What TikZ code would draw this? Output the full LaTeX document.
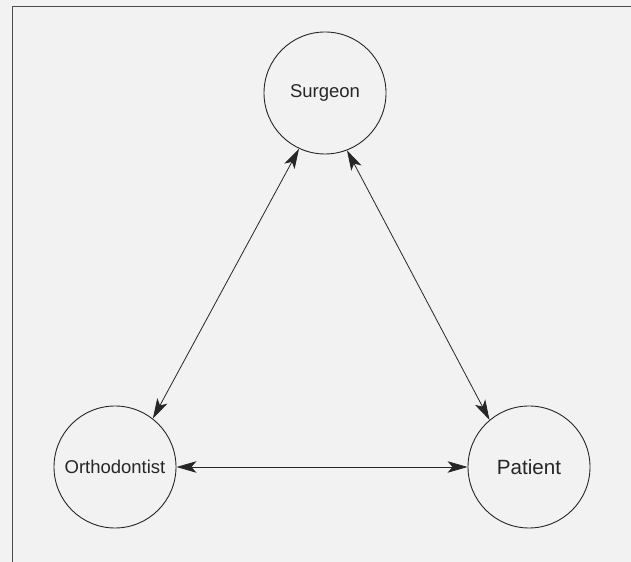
\documentclass[tikz,border=0pt]{standalone}
\usepackage{fontspec}
\setmainfont{Liberation Sans}
\usepackage{xcolor}
\usetikzlibrary{arrows.meta}
\definecolor{scanbg}{gray}{0.95}
\definecolor{framegray}{gray}{0.3}
\definecolor{inkgray}{gray}{0.15}

\begin{document}
\begin{tikzpicture}[
  x=1bp,y=1bp,
  role/.style={circle,draw=inkgray,line width=0.9bp,minimum size=122bp,inner sep=0pt,
    text=inkgray,font=\fontsize{18.5bp}{22bp}\selectfont},
  link/.style={draw=inkgray,line width=0.8bp},
  >={Stealth[length=20bp,width=11.5bp,inset=5bp]}
]
  \fill[scanbg] (0,0) rectangle (631,562);
  \useasboundingbox (0,0) rectangle (631,562);
  \draw[framegray,line width=1.4bp] (12.5,0) -- (12.5,555.5) -- (631,555.5);

  \node[role] (sur) at (325,469) {Surgeon};
  \node[role] (ort) at (115,95)  {Orthodontist};
  \node[role,font=\fontsize{20.6bp}{24bp}\selectfont] (pat) at (529,95) {Patient};

  \draw[link,<->] (sur.245) -- (ort.52);
  \draw[link,<->] (sur.291) -- (pat.130);
  \draw[link,<->] (ort) -- (pat);
\end{tikzpicture}
\end{document}
